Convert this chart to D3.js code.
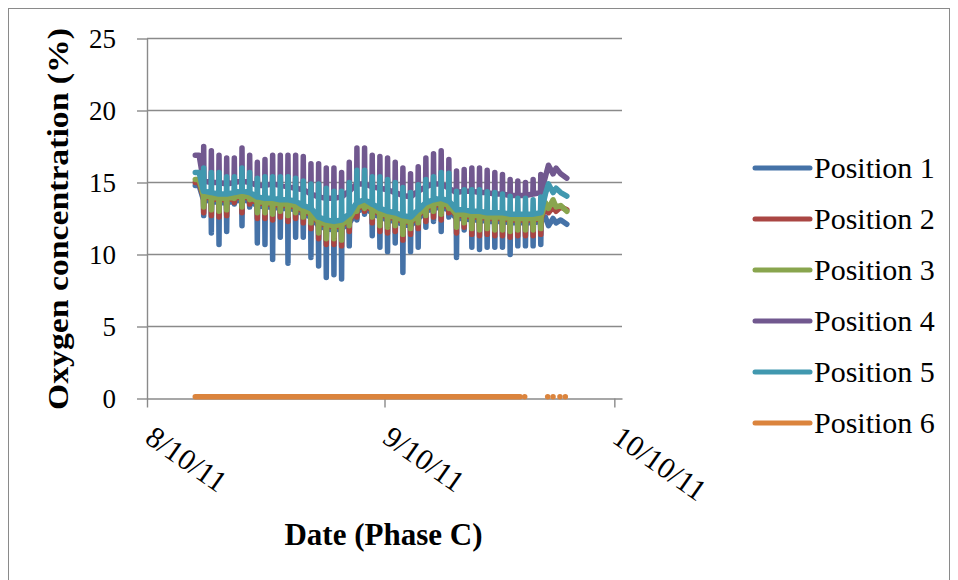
<!DOCTYPE html>
<html>
<head>
<meta charset="utf-8">
<script src="https://cdn.jsdelivr.net/npm/d3@7"></script>
<style>
body { margin: 0; background: #fff; }
text { font-family: "Liberation Serif", "Times New Roman", serif; fill: #000; }
</style>
</head>
<body>
<svg id="chart" width="958" height="580"></svg>
<script>
// ---- data (days counted from 8/10/11) ----
var seriesNames = ["Position 1", "Position 2", "Position 3", "Position 4", "Position 5", "Position 6"];
var seriesColors = ["#4572a7", "#aa4643", "#89a54e", "#71588f", "#4198af", "#db843d"];
var yTicks = [0, 5, 10, 15, 20, 25];
var xTickDays = [0, 31, 61]; // 8/10/11, 9/10/11, 10/10/11

// first reading, then one daily swing per day from day 7 (8/17) to day 51 (9/30)
var startDay = 6.3;
var startVals = [14.8, 15.0, 15.2, 16.9, 15.7];
var firstDay = 7;

var p1Base = [13.8,13.7,13.6,13.6,13.7,13.8,13.7,13.4,13.3,13.3, 13.2,13.2,13.1,12.8,12.6,12.0,11.8,11.7,11.8,12.2, 13.0,13.2,12.9,12.6,12.4,12.3,12.1,12.0,12.5,13.0, 13.2,13.3,13.1,12.5,12.5,12.4,12.4,12.3,12.3,12.3, 12.2,12.2,12.2,12.2,12.3];
var p1Dip  = [12.7,11.5,10.7,11.6,13.5,12.0,13.3,10.8,10.7,9.65, 11.2,9.4,11.2,11.2,9.8,9.2,8.4,8.6,8.3,10.6, 12.4,12.8,11.3,10.5,10.2,10.8,8.75,10.2,10.5,11.9, 12.3,11.6,12.6,9.8,11.7,10.5,10.35,10.5,10.5,10.5, 10.0,10.6,10.6,10.6,10.7];

var p2Base = [14.0,13.9,13.8,13.8,13.9,14.0,13.9,13.6,13.5,13.5, 13.4,13.4,13.3,13.0,12.8,12.2,12.0,11.9,12.0,12.4, 13.2,13.4,13.1,12.8,12.6,12.5,12.3,12.2,12.7,13.2, 13.4,13.5,13.3,12.7,12.7,12.6,12.6,12.5,12.5,12.5, 12.4,12.4,12.4,12.4,12.5];
var p2Dip  = [12.9,12.7,12.6,12.7,13.6,12.9,13.5,12.5,12.5,12.4, 12.6,12.3,12.5,12.2,11.8,11.1,10.7,10.7,10.6,11.6, 12.6,13.0,12.2,11.6,11.5,11.6,11.0,11.4,11.8,12.3, 12.6,12.4,12.9,11.5,11.9,11.4,11.3,11.4,11.3,11.3, 11.2,11.3,11.3,11.3,11.4];

var p3Base = [14.1,14.0,13.9,13.9,14.0,14.1,14.0,13.7,13.6,13.6, 13.5,13.5,13.4,13.1,12.9,12.3,12.1,12.0,12.1,12.5, 13.3,13.5,13.2,12.9,12.7,12.6,12.4,12.3,12.8,13.3, 13.5,13.6,13.4,12.8,12.8,12.7,12.7,12.6,12.6,12.6, 12.5,12.5,12.5,12.5,12.6];
var p3Dip  = [13.3,13.1,13.0,13.1,13.9,13.3,13.8,12.9,12.9,12.8, 13.0,12.7,12.9,12.6,12.2,11.5,11.1,11.1,11.0,12.0, 13.0,13.2,12.6,12.0,11.9,12.0,11.4,11.8,12.2,12.7, 13.0,12.8,13.2,11.9,12.2,11.8,11.7,11.8,11.7,11.7, 11.6,11.7,11.7,11.7,11.8];

var p4Base = [15.1,15.0,15.0,14.9,15.0,15.1,15.0,14.8,14.8,14.9, 14.8,14.7,14.6,14.5,14.2,14.0,13.9,13.9,14.0,14.4, 14.9,14.9,14.7,14.6,14.5,14.3,14.1,14.0,14.4,14.7, 14.9,14.9,14.6,14.3,14.4,14.4,14.3,14.3,14.2,14.2, 14.1,14.1,14.1,14.2,14.3];
var p4Peak = [17.5,17.2,16.9,16.7,16.7,17.4,16.9,16.4,16.6,16.9, 16.9,16.9,16.9,16.8,16.3,16.3,16.0,16.0,15.7,16.4, 17.4,17.4,16.9,16.8,16.7,16.4,16.0,15.6,16.1,16.7, 17.0,17.2,16.6,15.8,15.9,16.0,16.0,15.85,15.7,15.55, 15.2,15.1,15.0,15.2,15.55];

var p5Base = [14.4,14.3,14.2,14.2,14.3,14.4,14.3,14.0,13.9,13.9, 13.8,13.8,13.7,13.4,13.2,12.6,12.4,12.3,12.4,12.8, 13.6,13.8,13.5,13.2,13.0,12.9,12.7,12.6,13.1,13.6, 13.8,13.9,13.7,13.1,13.1,13.0,13.0,12.9,12.9,12.9, 12.8,12.8,12.8,12.8,12.9];
var p5Peak = [16.0,15.7,15.7,15.4,15.4,16.0,15.7,15.3,15.4,15.4, 15.4,15.4,15.3,15.1,14.9,14.9,14.6,14.4,14.4,15.0, 15.85,15.85,15.4,15.4,15.2,15.0,14.65,14.3,14.85,15.2, 15.4,15.7,15.65,14.4,14.5,14.5,14.5,14.35,14.3,14.2, 14.05,13.9,13.9,13.8,14.0];

// last readings (10/2 - 10/4)
var tailDays = [52.0, 52.4, 53.0, 53.4, 54.0, 54.8];
var p1Tail = [12.6, 12.0, 12.5, 12.2, 12.4, 12.1];
var p2Tail = [13.3, 12.9, 13.3, 13.0, 13.3, 13.1];
var p3Tail = [13.6, 13.2, 13.8, 13.3, 13.4, 13.0];
var p4Tail = [15.4, 16.2, 15.6, 16.0, 15.6, 15.3];
var p5Tail = [14.2, 14.9, 14.3, 14.6, 14.3, 14.05];

// position 6: flat near zero, gaps at the end
var p6Days = [6.3, 10, 15, 20, 25, 30, 35, 40, 45, 48.7];
var p6Vals = [0.13, 0.13, 0.13, 0.13, 0.13, 0.13, 0.13, 0.13, 0.13, 0.13];
var p6DotDays = [49.3, 52.3, 53.0, 53.9, 54.6];
var p6DotVals = [0.13, 0.13, 0.13, 0.13, 0.13];

// ---- setup ----
var DAY = 864e5, t0 = Date.UTC(2011, 7, 10);
function dayDate(d) { return new Date(t0 + d * DAY); }

var svg = d3.select('#chart');
var axisColor = '#8a8a8a';

// outer frame
svg.append('rect')
    .attr('x', 8.5).attr('y', 8.5)
    .attr('width', 941).attr('height', 600)
    .attr('fill', 'none').attr('stroke', axisColor).attr('stroke-width', 1);

var x = d3.scaleUtc().domain([dayDate(0), dayDate(62)]).range([147, 622]);
var y = d3.scaleLinear().domain([0, 25]).range([398.5, 38.5]);

// gridlines
svg.append('g').selectAll('line')
    .data(yTicks.filter(function(v) { return v > 0; }))
    .join('line')
    .attr('x1', 147).attr('x2', 622)
    .attr('y1', function(v) { return y(v); }).attr('y2', function(v) { return y(v); })
    .attr('stroke', axisColor).attr('stroke-width', 1.4);

// y axis
var yAxisG = svg.append('g')
    .attr('transform', 'translate(147,0)')
    .call(d3.axisLeft(y).tickValues(yTicks).tickSize(10).tickSizeOuter(0).tickPadding(21));
yAxisG.selectAll('text').style('font-size', '27px');

// x axis
var fmt = d3.utcFormat('%-m/%-d/%y');
var xAxisG = svg.append('g')
    .attr('transform', 'translate(0,398.5)')
    .call(d3.axisBottom(x).tickValues(xTickDays.map(dayDate)).tickSize(9).tickSizeOuter(0).tickFormat(fmt));
xAxisG.selectAll('text')
    .attr('y', null).attr('dy', null)
    .attr('text-anchor', 'start')
    .attr('transform', 'translate(-4,43) rotate(35)')
    .style('font-size', '30px');

[yAxisG, xAxisG].forEach(function(g) {
    g.select('.domain').attr('stroke', axisColor).attr('stroke-width', 1.4);
    g.selectAll('.tick line').attr('stroke', axisColor).attr('stroke-width', 1.4);
    g.selectAll('text').attr('fill', '#000').style('font-family', '"Liberation Serif", serif');
});

// ---- series ----
function buildSeries(start, base, ext, tail) {
    var pts = [{t: startDay, v: start}, {t: startDay + 0.5, v: start}];
    base.forEach(function(b, i) {
        var d = firstDay + i;
        pts.push({t: d + 0.36, v: b});
        pts.push({t: d + 0.40, v: ext[i]});
        pts.push({t: d + 0.44, v: b});
    });
    tailDays.forEach(function(d, j) { pts.push({t: d, v: tail[j]}); });
    return pts;
}

var seriesData = [
    buildSeries(startVals[0], p1Base, p1Dip, p1Tail),
    buildSeries(startVals[1], p2Base, p2Dip, p2Tail),
    buildSeries(startVals[2], p3Base, p3Dip, p3Tail),
    buildSeries(startVals[3], p4Base, p4Peak, p4Tail),
    buildSeries(startVals[4], p5Base, p5Peak, p5Tail),
    p6Days.map(function(d, i) { return {t: d, v: p6Vals[i]}; })
];

var line = d3.line()
    .x(function(p) { return x(dayDate(p.t)); })
    .y(function(p) { return y(p.v); });

var lineW = 5.5;
var plot = svg.append('g');
seriesData.forEach(function(pts, k) {
    plot.append('path')
        .attr('d', line(pts))
        .attr('fill', 'none')
        .attr('stroke', seriesColors[k])
        .attr('stroke-width', lineW)
        .attr('stroke-linejoin', 'round')
        .attr('stroke-linecap', 'round');
});
// isolated position 6 readings
plot.append('g').selectAll('circle')
    .data(p6DotDays)
    .join('circle')
    .attr('cx', function(d) { return x(dayDate(d)); })
    .attr('cy', function(d, i) { return y(p6DotVals[i]); })
    .attr('r', lineW / 2)
    .attr('fill', seriesColors[5]);

// ---- titles ----
svg.append('text')
    .attr('x', 383.5).attr('y', 545)
    .attr('text-anchor', 'middle')
    .style('font-size', '31px').style('font-weight', 'bold')
    .text('Date (Phase C)');

svg.append('text')
    .attr('transform', 'translate(68,219) rotate(-90)')
    .attr('text-anchor', 'middle')
    .attr('textLength', 382).attr('lengthAdjust', 'spacingAndGlyphs')
    .style('font-size', '30px').style('font-weight', 'bold')
    .text('Oxygen concentration (%)');

// ---- legend ----
var legend = svg.append('g').attr('transform', 'translate(755,168)');
var item = legend.selectAll('g')
    .data(seriesNames)
    .join('g')
    .attr('transform', function(d, i) { return 'translate(0,' + (i * 51) + ')'; });
item.append('line')
    .attr('x1', 0).attr('x2', 55).attr('y1', 0).attr('y2', 0)
    .attr('stroke', function(d, i) { return seriesColors[i]; })
    .attr('stroke-width', 5).attr('stroke-linecap', 'round');
item.append('text')
    .attr('x', 59).attr('y', 10)
    .style('font-size', '30px')
    .text(function(d) { return d; });
</script>
</body>
</html>
